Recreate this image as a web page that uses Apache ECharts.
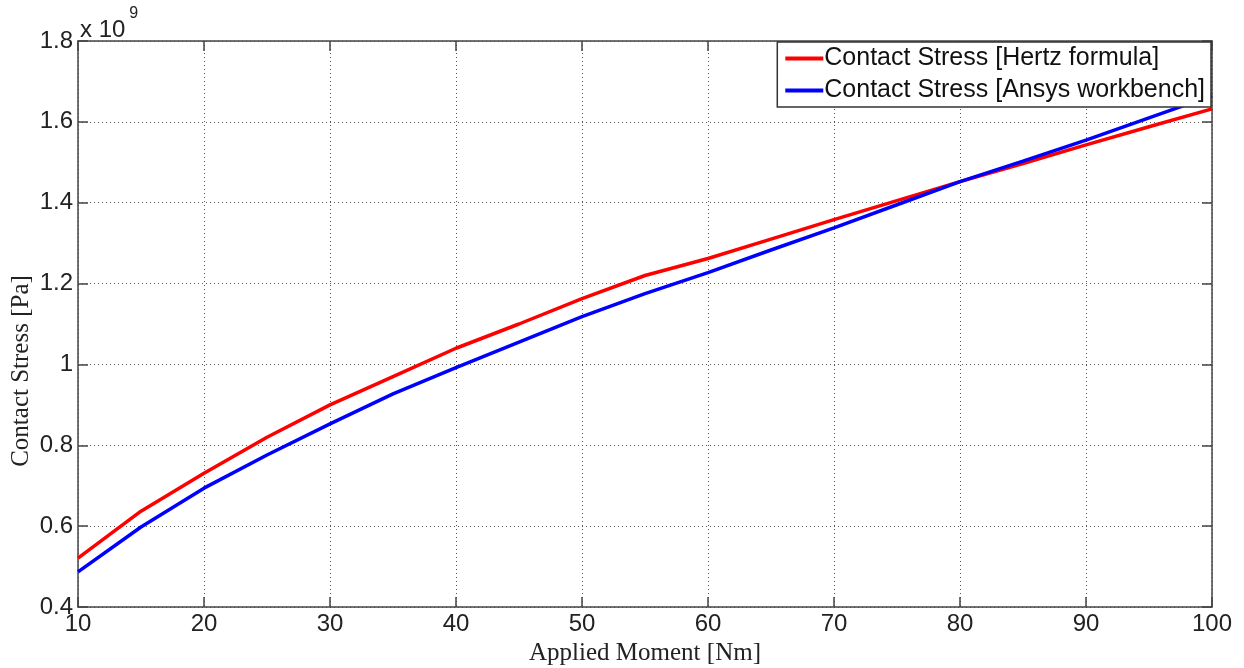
<!DOCTYPE html>
<html>
<head>
<meta charset="utf-8">
<script src="https://cdn.jsdelivr.net/npm/echarts@6/dist/echarts.min.js"></script>
<style>
  html, body { margin: 0; padding: 0; background: #fff; }
  #chart { width: 1244px; height: 668px; }
</style>
</head>
<body>
<div id="chart"></div>
<script>
// applied moment [Nm]
var moments = [10, 15, 20, 25, 30, 35, 40, 45, 50, 55, 60, 65, 70, 75, 80, 85, 90, 95, 100];
// contact stress, units of 1e9 Pa
var hertz = [0.521, 0.637, 0.731, 0.82, 0.90, 0.97, 1.04, 1.10, 1.163, 1.22, 1.262, 1.31, 1.358, 1.405, 1.452, 1.497, 1.543, 1.588, 1.632];
var ansys = [0.487, 0.598, 0.694, 0.776, 0.853, 0.927, 0.992, 1.055, 1.118, 1.175, 1.227, 1.283, 1.338, 1.395, 1.452, 1.503, 1.555, 1.61, 1.665];

function pairs(xs, ys) {
  return xs.map(function (x, i) { return [x, ys[i]]; });
}

var myChart = echarts.init(document.getElementById('chart'));
var tickFont = { fontFamily: 'Liberation Sans, Arial, sans-serif', fontSize: 24, color: '#222' };
var nameFont = { fontFamily: 'Liberation Serif, Times New Roman, serif', fontSize: 25, color: '#222' };
var gridLine = { show: true, lineStyle: { type: [1, 3], color: '#555', width: 1 } };
var axisLine = { show: true, lineStyle: { color: '#444', width: 1.5 } };
var tick = { show: true, inside: true, length: 10, lineStyle: { color: '#444', width: 1.5 } };

var option = {
  animation: false,
  grid: { left: 78, right: 32, top: 41, bottom: 61, outerBoundsMode: 'none', containLabel: false },
  xAxis: [
    {
      type: 'value', min: 10, max: 100, interval: 10,
      name: 'Applied Moment [Nm]', nameLocation: 'middle', nameGap: 33,
      nameTextStyle: nameFont,
      axisLine: axisLine,
      axisTick: tick,
      axisLabel: Object.assign({ margin: 5 }, tickFont),
      splitLine: gridLine
    },
    {
      type: 'value', min: 10, max: 100, interval: 10, position: 'top',
      axisLine: axisLine,
      axisTick: tick,
      axisLabel: { show: false },
      splitLine: { show: false }
    }
  ],
  yAxis: [
    {
      type: 'value', min: 0.4, max: 1.8, interval: 0.2,
      name: 'Contact Stress [Pa]', nameLocation: 'middle', nameGap: 44, nameRotate: 90,
      nameMoveOverlap: false,
      nameTextStyle: Object.assign({ padding: [0, 94, 0, 0] }, nameFont),
      axisLine: axisLine,
      axisTick: tick,
      axisLabel: Object.assign({ margin: 5, formatter: function (v) { return String(Math.round(v * 10) / 10); } }, tickFont),
      splitLine: gridLine
    },
    {
      type: 'value', min: 0.4, max: 1.8, interval: 0.2, position: 'right',
      axisLine: axisLine,
      axisTick: tick,
      axisLabel: { show: false },
      splitLine: { show: false }
    }
  ],
  legend: {
    orient: 'vertical',
    right: 33, top: 42,
    backgroundColor: '#fff',
    borderColor: '#333', borderWidth: 1.5,
    padding: [4, 6, 4, 8],
    itemGap: 7,
    itemWidth: 38, itemHeight: 4,
    icon: 'rect',
    textStyle: { fontFamily: 'Liberation Sans, Arial, sans-serif', fontSize: 25, color: '#111', padding: [0, 0, 0, -4] },
    data: ['Contact Stress [Hertz formula]', 'Contact Stress [Ansys workbench]']
  },
  graphic: [
    {
      type: 'text', left: 80, top: 6,
      style: {
        text: '{a|x 10}{b|9}',
        rich: {
          a: { fontFamily: 'Liberation Sans, Arial, sans-serif', fontSize: 24, fill: '#222', verticalAlign: 'bottom', padding: [12, 0, 0, 0] },
          b: { fontFamily: 'Liberation Sans, Arial, sans-serif', fontSize: 16, fill: '#222', verticalAlign: 'top', padding: [0, 0, 12, 4] }
        }
      }
    }
  ],
  series: [
    {
      name: 'Contact Stress [Hertz formula]',
      type: 'line',
      data: pairs(moments, hertz),
      showSymbol: false,
      lineStyle: { color: '#ff0000', width: 3.5 },
      itemStyle: { color: '#ff0000' }
    },
    {
      name: 'Contact Stress [Ansys workbench]',
      type: 'line',
      data: pairs(moments, ansys),
      showSymbol: false,
      lineStyle: { color: '#0000ff', width: 3.5 },
      itemStyle: { color: '#0000ff' }
    }
  ]
};
option && myChart.setOption(option);
</script>
</body>
</html>
